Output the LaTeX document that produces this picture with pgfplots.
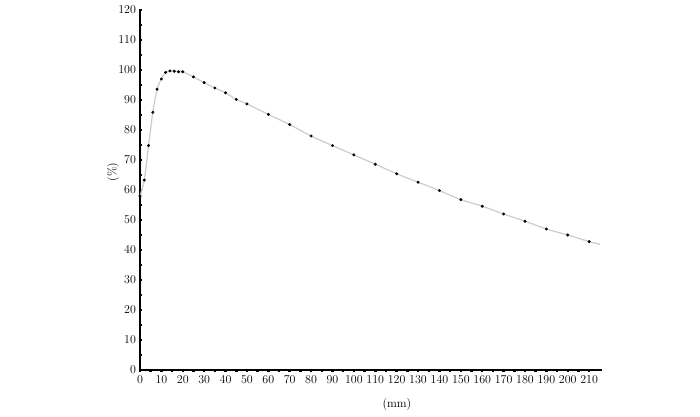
\documentclass[border=0pt]{standalone}
\usepackage{pgfplots}
\pgfplotsset{compat=1.18}
\begin{document}
\begin{tikzpicture}
\path[use as bounding box] (0,0) rectangle (700pt,416pt);
\begin{axis}[
  at={(140pt,46pt)}, anchor=south west,
  scale only axis, width=462pt, height=360pt,
  xmin=0, xmax=216, ymin=0, ymax=120,
  axis lines=left, axis line style={-, line width=1.6pt, black},
  xtick={0,10,...,210}, ytick={0,10,...,120},
  minor x tick num=1, minor y tick num=1,
  tick align=center,
  major tick length=3pt, minor tick length=3pt,
  tick style={black, line width=2.5pt},
  tick label style={font=\fontsize{11.5}{13}\selectfont},
  xticklabel style={yshift=-1pt},
  yticklabel style={xshift=1pt},
  xlabel={(mm)}, ylabel={(\%)},
  label style={font=\fontsize{12}{14}\selectfont},
  xlabel style={at={(axis description cs:0.556,-0.097)}, anchor=center},
  ylabel style={at={(axis description cs:-0.058,0.55)}, anchor=center},
  clip=false,
]
\addplot[smooth, color=black!20, line width=1.2pt, no marks] coordinates {
(0,58)(2,63.3)(4,74.8)(6,85.9)(8,93.6)(10,97)(12,99.2)(14,99.7)(16,99.6)(18,99.4)(20,99.4)(25,97.7)(30,95.8)(35,94)(40,92.4)(45,90.2)(50,88.7)(60,85.2)(70,81.8)(80,78)(90,74.8)(100,71.7)(110,68.6)(120,65.4)(130,62.6)(140,59.8)(150,56.8)(160,54.6)(170,52)(180,49.6)(190,47)(200,45)(210,42.8)(215,41.9)
};
\addplot[only marks, mark=*, mark size=1.3pt, black, mark options={draw=none, fill=black}] coordinates {
(0,58)(2,63.3)(4,74.8)(6,85.9)(8,93.6)(10,97)(12,99.2)(14,99.7)(16,99.6)(18,99.4)(20,99.4)(25,97.7)(30,95.8)(35,94)(40,92.4)(45,90.2)(50,88.7)(60,85.2)(70,81.8)(80,78)(90,74.8)(100,71.7)(110,68.6)(120,65.4)(130,62.6)(140,59.8)(150,56.8)(160,54.6)(170,52)(180,49.6)(190,47)(200,45)(210,42.8)
};
\end{axis}
\end{tikzpicture}
\end{document}
